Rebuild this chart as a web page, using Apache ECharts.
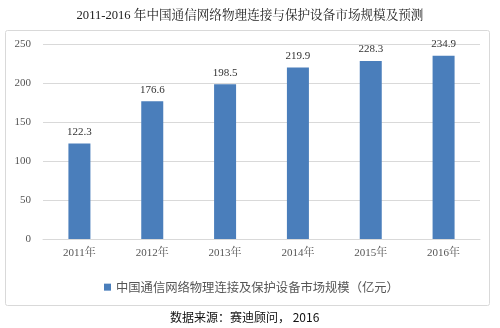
<!DOCTYPE html>
<html><head><meta charset="utf-8">
<script src="https://cdn.jsdelivr.net/npm/echarts@6/dist/echarts.min.js"></script>
<style>html,body{margin:0;padding:0;background:#fff}#c{width:500px;height:328px}</style>
</head><body><div id="c"></div>
<script>
const categories = ['2011年','2012年','2013年','2014年','2015年','2016年'];
const values = [122.3, 176.6, 198.5, 219.9, 228.3, 234.9];
const seriesName = '中国通信网络物理连接及保护设备市场规模（亿元）';
const titleText = '2011-2016 年中国通信网络物理连接与保护设备市场规模及预测';
const sourceText = '数据来源：赛迪顾问， 2016';

const chart = echarts.init(document.getElementById('c'));
const font = '"Liberation Serif","Noto Serif CJK SC","Noto Sans CJK SC",serif';
chart.setOption({
  animation: false,
  title: { text: titleText, left: 'center', top: 4,
    textStyle: { fontSize: 12.6, fontWeight: 'normal', color: '#222', fontFamily: font } },
  graphic: [
    { type: 'rect', shape: { x: 5.5, y: 30.5, width: 484, height: 275, r: 2 },
      style: { fill: 'none', stroke: '#d9d9d9', lineWidth: 1 }, z: -1 },
    { type: 'text', left: 170, top: 311,
      style: { text: sourceText, fontSize: 12, fill: '#111', fontFamily: '"Noto Sans CJK SC",sans-serif' } }
  ],
  legend: { data: [seriesName], left: 99, top: 276, itemWidth: 7, itemHeight: 7, itemGap: 3,
    icon: 'rect', textStyle: { fontSize: 12.3, color: '#555', fontFamily: '"Noto Sans CJK SC",sans-serif' } },
  grid: { left: 43, right: 20, top: 44, bottom: 89 },
  xAxis: { type: 'category', data: categories,
    axisLine: { lineStyle: { color: '#d9d9d9' } }, axisTick: { show: false },
    axisLabel: { color: '#555', fontSize: 11, margin: 9, fontFamily: font } },
  yAxis: { type: 'value', min: 0, max: 250, interval: 50,
    axisLine: { show: false }, axisTick: { show: false },
    splitLine: { lineStyle: { color: '#d9d9d9' } },
    axisLabel: { color: '#555', fontSize: 11, margin: 12, fontFamily: font } },
  series: [{ name: seriesName, type: 'bar', data: values, barWidth: 22,
    itemStyle: { color: '#4a7ebb' },
    label: { show: true, position: 'top', distance: 6, color: '#333', fontSize: 11, fontFamily: font } }]
});
</script></body></html>
